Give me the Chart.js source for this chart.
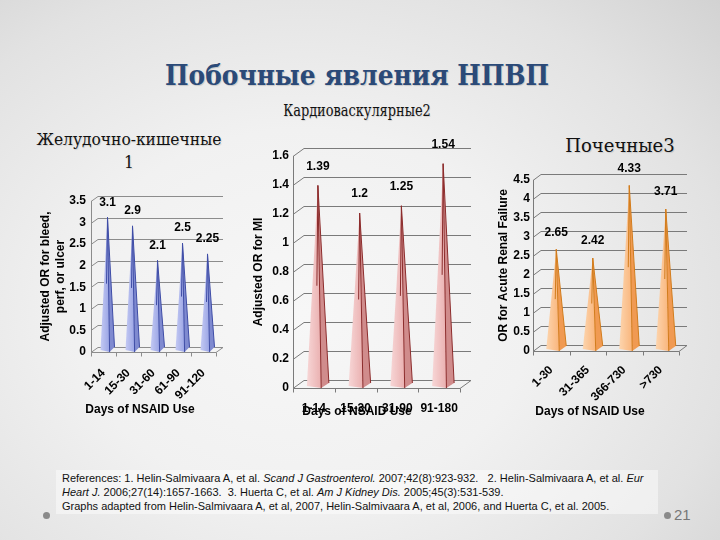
<!DOCTYPE html>
<html><head><meta charset="utf-8">
<script src="https://cdn.jsdelivr.net/npm/chart.js@4/dist/chart.umd.min.js"></script>
<style>
html,body{margin:0;padding:0}
body{width:720px;height:540px;position:relative;overflow:hidden;
background:radial-gradient(ellipse 80% 85% at 42% 58%, #f7f7f7 0%, #f1f1f1 40%, #e2e2e2 75%, #d2d2d2 100%);
font-family:"Liberation Sans",Arial,sans-serif}
.t{position:absolute;white-space:nowrap;transform:translate(-50%,-50%)}
#main{left:357px;top:75px;font:bold 28px "DejaVu Serif",serif;color:#2b4a78;text-shadow:1px 1px 1px rgba(0,0,0,0.15);transform:translate(-50%,-50%) scaleX(0.89)}
.sub{font:16px "DejaVu Serif",serif;color:#111;text-shadow:1px 1px 1px rgba(0,0,0,0.12);text-align:center;line-height:23px}
canvas{position:absolute}
#refs{position:absolute;left:56px;top:470px;width:590px;padding:1px 6px;background:rgba(255,255,255,0.45);font:11px "Liberation Sans Narrow","Liberation Sans",Arial,sans-serif;line-height:14px;color:#111}
#pg{position:absolute;left:674px;top:506px;font:15px "Liberation Sans",Arial,sans-serif;color:#777}
.dot{position:absolute;width:7px;height:7px;border-radius:50%;background:#8a8a8a}
</style></head>
<body>
<div id="main" class="t">Побочные явления НПВП</div>
<div class="t sub" style="left:357px;top:110px;font-size:17px;transform:translate(-50%,-50%) scaleX(0.76)">Кардиоваскулярные2</div>
<div class="t sub" style="left:129px;top:151px;font-size:17px;transform:translate(-50%,-50%) scaleX(0.91)">Желудочно-кишечные<br>1</div>
<div class="t sub" style="left:620px;top:145px;font-size:18px">Почечные3</div>

<canvas id="c1" width="220" height="235" style="left:30px;top:185px"></canvas>
<canvas id="c2" width="235" height="295" style="left:245px;top:130px"></canvas>
<canvas id="c3" width="215" height="270" style="left:488px;top:155px"></canvas>

<div id="refs">References: 1. Helin-Salmivaara A, et al. <i>Scand J Gastroenterol.</i> 2007;42(8):923-932.&nbsp;&nbsp; 2. Helin-Salmivaara A, et al. <i>Eur<br>Heart J.</i> 2006;27(14):1657-1663.&nbsp; 3. Huerta C, et al. <i>Am J Kidney Dis.</i> 2005;45(3):531-539.<br>Graphs adapted from Helin-Salmivaara A, et al, 2007, Helin-Salmivaara A, et al, 2006, and Huerta C, et al. 2005.</div>
<div class="dot" style="left:43px;top:512px"></div>
<div class="dot" style="left:664px;top:512px"></div>
<div id="pg">21</div>

<script>
// ---- data ----
const giLabels = ['1-14', '15-30', '31-60', '61-90', '91-120'];
const giValues = [3.1, 2.9, 2.1, 2.5, 2.25];
const miLabels = ['1-14', '15-30', '31-90', '91-180'];
const miValues = [1.39, 1.2, 1.25, 1.54];
const renalLabels = ['1-30', '31-365', '366-730', '>730'];
const renalValues = [2.65, 2.42, 4.33, 3.71];
const xTitle = 'Days of NSAID Use';
const giYTitle = ['Adjusted OR for bleed,', 'perf, or ulcer'];
const miYTitle = 'Adjusted OR for MI';
const renalYTitle = 'OR for Acute Renal Failure';

const FONT = '"Liberation Sans", Arial, sans-serif';

const cone3d = {
  id: 'cone3d',
  beforeDatasetsDraw(chart, args, o) {
    const ctx = chart.ctx, y = chart.scales.y, x = chart.scales.x;
    const {left, right} = chart.chartArea;
    ctx.save();
    ctx.strokeStyle = o.gridColor; ctx.lineWidth = 1;
    y.ticks.forEach(t => {
      const py = Math.round(y.getPixelForValue(t.value)) + 0.5;
      ctx.beginPath();
      ctx.moveTo(left, py);
      ctx.lineTo(left + o.dx, py + o.dy);
      ctx.lineTo(right + o.dx, py + o.dy);
      ctx.stroke();
    });
    const y0 = Math.round(y.getPixelForValue(y.min)) + 0.5, y1 = y.getPixelForValue(y.max);
    const lx = Math.round(left) + 0.5;
    ctx.strokeStyle = o.axisColor;
    ctx.beginPath();
    ctx.moveTo(lx, y1); ctx.lineTo(lx, y0); ctx.lineTo(right, y0); ctx.lineTo(right + o.dx, y0 + o.dy);
    ctx.stroke();
    for (let i = 0; i <= x.ticks.length; i++) {
      const px = Math.round(x.getPixelForValue(i - 0.5)) + 0.5;
      ctx.beginPath(); ctx.moveTo(px, y0); ctx.lineTo(px, y0 + 4); ctx.stroke();
    }
    ctx.restore();
  },
  beforeDatasetDraw(chart, args, o) {
    const ctx = chart.ctx;
    const c = o.colors;
    ctx.save();
    args.meta.data.forEach(el => {
      const cx = el.x + o.shift, by = el.base - 2, py = el.y - 1, hw = o.hw;
      const mx = cx + hw * 0.3;
      const g = ctx.createLinearGradient(cx - hw, 0, mx, 0);
      g.addColorStop(0, c.light); g.addColorStop(1, c.mid);
      ctx.fillStyle = g; ctx.strokeStyle = c.edge; ctx.lineWidth = 1;
      ctx.beginPath(); ctx.moveTo(cx - hw, by); ctx.lineTo(cx, py); ctx.lineTo(mx, by + 2); ctx.closePath();
      ctx.fill();
      ctx.fillStyle = c.dark;
      ctx.beginPath(); ctx.moveTo(mx, by + 2); ctx.lineTo(cx, py); ctx.lineTo(cx + hw, by - 3); ctx.closePath();
      ctx.fill();
      ctx.beginPath(); ctx.moveTo(cx, py); ctx.lineTo(mx, by + 2); ctx.stroke();
      ctx.beginPath(); ctx.moveTo(cx, py); ctx.lineTo(cx - 1, py + (by - py) * 0.5); ctx.stroke();
      ctx.beginPath(); ctx.moveTo(cx, py); ctx.lineTo(cx + hw, by - 3); ctx.stroke();
    });
    ctx.restore();
    return false;
  },
  afterDatasetsDraw(chart, args, o) {
    const ctx = chart.ctx;
    const ds = chart.data.datasets[0];
    const meta = chart.getDatasetMeta(0);
    ctx.save();
    ctx.fillStyle = '#000'; ctx.font = 'bold 12px ' + FONT;
    ctx.textAlign = 'center'; ctx.textBaseline = 'middle';
    meta.data.forEach((el, i) => {
      ctx.fillText(String(ds.data[i]), el.x + o.shift, el.y - o.labelDy);
    });
    ctx.font = 'bold 12px ' + FONT;
    ctx.fillText(o.xTitle, o.xTitleX, o.xTitleY);
    ctx.restore();
  }
};

function makeChart(id, labels, values, cfg) {
  return new Chart(document.getElementById(id), {
    type: 'bar',
    data: {labels: labels, datasets: [{data: values}]},
    plugins: [cone3d],
    options: {
      responsive: false, animation: false, events: [],
      layout: {padding: {top: cfg.padTop, right: cfg.padRight, left: 0, bottom: 0}},
      plugins: {legend: {display: false}, tooltip: {enabled: false}, cone3d: cfg.cone},
      scales: {
        x: {
          grid: {display: false, drawTicks: false}, border: {display: false},
          ticks: {font: {family: FONT, size: 12, weight: 'bold'}, color: '#000',
                  minRotation: cfg.rot, maxRotation: cfg.rot, padding: cfg.xPad, autoSkip: false},
          afterFit(s) { s.height = cfg.xHeight; }
        },
        y: {
          min: 0, max: cfg.max,
          grid: {display: false, drawTicks: false}, border: {display: false},
          ticks: {stepSize: cfg.step, padding: cfg.yPad, font: {family: FONT, size: 12, weight: 'bold'}, color: '#000',
                  callback: v => String(Number(v.toFixed(2)))},
          title: {display: true, text: cfg.yTitle, color: '#000',
                  font: {family: FONT, size: 12, weight: 'bold', lineHeight: 1.25}, padding: {top: cfg.yTitlePad, bottom: 0}},
          afterFit(s) { s.width = cfg.yWidth; }
        }
      }
    }
  });
}

makeChart('c1', giLabels, giValues, {
  padTop: 16, padRight: 34, xHeight: 68, rot: 45, xPad: 14, max: 3.5, step: 0.5, yPad: 5,
  yTitle: giYTitle, yTitlePad: 8, yWidth: 61,
  cone: {dx: 7, dy: -5, shift: 4, hw: 7, labelDy: 16, gridColor: '#8c8c8c', axisColor: '#8c8c8c',
         xTitle: xTitle, xTitleX: 110, xTitleY: 225,
         colors: {light: '#c4caf4', mid: '#9aa4e4', dark: '#7f8ad0', edge: '#3e4ca6'}}
});
makeChart('c2', miLabels, miValues, {
  padTop: 26, padRight: 20, xHeight: 37, rot: 0, xPad: 13, max: 1.6, step: 0.2, yPad: 4,
  yTitle: miYTitle, yTitlePad: 6, yWidth: 48,
  cone: {dx: 11, dy: -8, shift: 4, hw: 11, labelDy: 20, gridColor: '#7a7a7a', axisColor: '#7a7a7a',
         xTitle: xTitle, xTitleX: 112, xTitleY: 282,
         colors: {light: '#f7d6d6', mid: '#eab0b0', dark: '#d08c8c', edge: '#8c2c2c'}}
});
makeChart('c3', renalLabels, renalValues, {
  padTop: 25, padRight: 24, xHeight: 74, rot: 45, xPad: 12, max: 4.5, step: 0.5, yPad: 3,
  yTitle: renalYTitle, yTitlePad: 8, yWidth: 45,
  cone: {dx: 8, dy: -6, shift: 5, hw: 10, labelDy: 18, gridColor: '#7a7a7a', axisColor: '#7a7a7a',
         xTitle: xTitle, xTitleX: 102, xTitleY: 257,
         colors: {light: '#fdd5ae', mid: '#f9b57c', dark: '#f09a52', edge: '#d27c1c'}}
});
</script>
</body></html>
